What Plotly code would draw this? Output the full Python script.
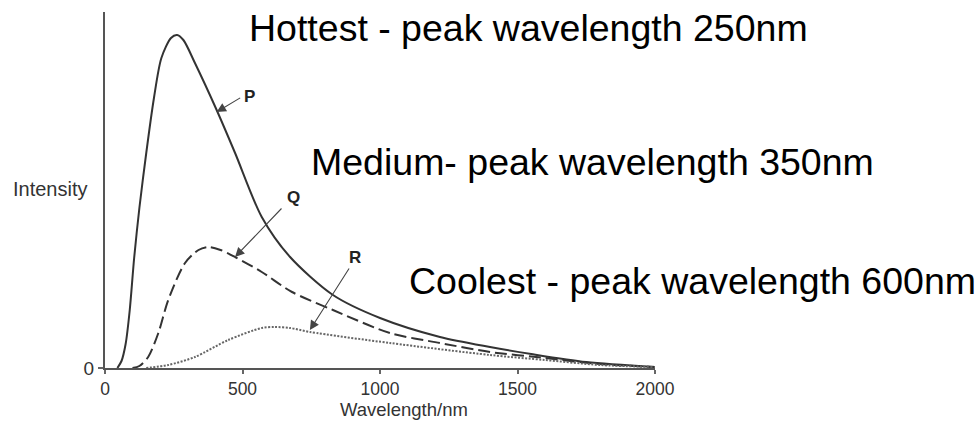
import plotly.graph_objects as go

# Wavelength (nm) and intensity (arbitrary units)
p_wl = [45, 60, 75, 90, 106, 125, 150, 178, 205, 240, 262, 285, 327, 406, 473, 570, 673, 829, 1000, 1218, 1400, 1550, 1750, 2000]
p_int = [0, 7, 24, 58, 110, 160, 215, 270, 310, 330, 333, 328, 305, 258, 215, 151, 111, 73, 50, 31, 21, 14, 6, 1]

q_wl = [100, 125, 157, 194, 230, 291, 340, 376, 420, 473, 570, 680, 829, 1036, 1218, 1400, 1600, 1800, 2000]
q_int = [0, 2, 11, 35, 68, 105, 118, 121, 118, 111, 96, 76, 58, 35, 25, 16, 10, 4, 1]

r_wl = [150, 230, 327, 448, 570, 618, 673, 745, 1036, 1400, 1600, 1800, 2000]
r_int = [0, 3, 11, 28, 40, 41, 40, 36, 25, 13, 8, 3, 1]

x_ticks = [0, 500, 1000, 1500, 2000]
y_ticks = [0]
y_ticktext = ["0"]

FONT = "Liberation Sans, Arial, sans-serif"

fig = go.Figure()
fig.add_trace(go.Scatter(x=p_wl, y=p_int, mode="lines", line=dict(color="#333333", width=2, shape="spline", smoothing=0.8)))
fig.add_trace(go.Scatter(x=q_wl, y=q_int, mode="lines", line=dict(color="#333333", width=2, dash="12px,5px", shape="spline", smoothing=0.8)))
fig.add_trace(go.Scatter(x=r_wl, y=r_int, mode="lines", line=dict(color="#666666", width=2, dash="2px,1.5px", shape="spline", smoothing=0.8)))

annotations = []
# Arrows
for (hx, hy, tx, ty) in [(406, 256, 497, 271), (473, 111, 647, 161), (745, 38, 891, 101)]:
    annotations.append(dict(x=hx, y=hy, ax=tx, ay=ty, xref="x", yref="y", axref="x", ayref="y",
                            text="", showarrow=True, arrowhead=2, arrowsize=1.7, arrowwidth=1.1,
                            arrowcolor="#444444", standoff=0, startstandoff=0))
# Curve letters
for (lx, ly, t) in [(524, 272, "P"), (684, 171, "Q"), (909, 111, "R")]:
    annotations.append(dict(x=lx, y=ly, xref="x", yref="y", text="<b>%s</b>" % t, showarrow=False,
                            font=dict(family=FONT, size=17, color="#222222"), xanchor="center", yanchor="middle"))
# Big descriptive texts
for (lx, ly, t) in [(531, 340.5, "Hottest - peak wavelength 250nm"),
                    (756, 206.5, "Medium- peak wavelength 350nm"),
                    (1113, 87, "Coolest - peak wavelength 600nm")]:
    annotations.append(dict(x=lx, y=ly, xref="x", yref="y", text=t, showarrow=False, xshift=-4,
                            font=dict(family=FONT, size=37.5, color="#000000"), xanchor="left", yanchor="middle"))
# Axis titles
annotations.append(dict(x=(404 - 105) / 550, y=-(421 - 368) / 356, xref="paper", yref="paper",
                        text="Wavelength/nm", showarrow=False, borderpad=0,
                        font=dict(family=FONT, size=18.5, color="#333333"), xanchor="center", yanchor="bottom"))
annotations.append(dict(x=(50 - 105) / 550, y=(368 - 189) / 356, xref="paper", yref="paper",
                        text="Intensity", showarrow=False,
                        font=dict(family=FONT, size=20, color="#333333"), xanchor="center", yanchor="middle"))

fig.update_layout(
    width=977, height=421, autosize=False,
    margin=dict(l=105, r=322, t=12, b=53, pad=0),
    paper_bgcolor="white", plot_bgcolor="white",
    showlegend=False,
    annotations=annotations,
    xaxis=dict(range=[0, 2000], tickvals=x_ticks, ticks="outside", ticklen=4, tickwidth=1.5,
               tickcolor="#666666", showline=True, linecolor="#555555", linewidth=2,
               showgrid=False, zeroline=False, tickfont=dict(family=FONT, size=17.5, color="#333333")),
    yaxis=dict(range=[0, 356], tickvals=y_ticks, ticktext=y_ticktext, ticks="outside", ticklen=5,
               tickwidth=1.5, tickcolor="#666666", showline=True, linecolor="#555555", linewidth=2,
               showgrid=False, zeroline=False, tickfont=dict(family=FONT, size=19, color="#333333")),
)

fig.write_html("out.html")
